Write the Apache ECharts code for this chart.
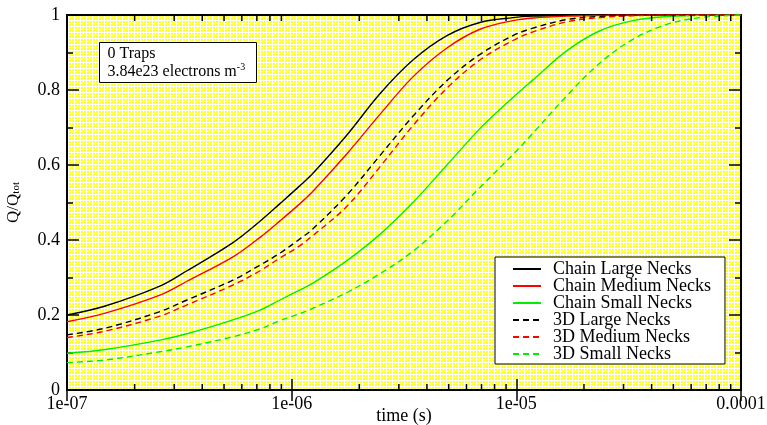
<!DOCTYPE html>
<html>
<head>
<meta charset="utf-8">
<script src="https://cdn.jsdelivr.net/npm/echarts@6/dist/echarts.min.js"></script>
<style>html,body{margin:0;padding:0;background:#fff;}#c{width:767px;height:425px;}</style>
</head>
<body>
<div id="c"></div>
<script>
// time (s)
const times = [1.0e-7, 1.48e-7, 2.59e-7, 3.42e-7, 5.48e-7, 7.23e-7, 8.87e-7, 1.089e-6, 1.244e-6, 1.762e-6, 2.471e-6, 3.465e-6, 4.911e-6, 6.886e-6, 9.66e-6, 1.186e-5, 1.68e-5, 2.355e-5, 3.30e-5, 4.68e-5, 6.56e-5, 1.0e-4];
const chainLarge  = [0.200,0.224,0.277,0.318,0.393,0.450,0.497,0.545,0.578,0.680,0.790,0.880,0.945,0.980,0.993,0.997,0.999,1.0,1.0,1.0,1.0,1.0];
const chainMedium = [0.182,0.205,0.253,0.290,0.355,0.407,0.451,0.497,0.530,0.630,0.735,0.835,0.912,0.962,0.985,0.992,0.997,0.999,1.0,1.0,1.0,1.0];
const chainSmall  = [0.098,0.108,0.133,0.150,0.187,0.213,0.240,0.267,0.285,0.345,0.415,0.500,0.600,0.697,0.780,0.827,0.905,0.958,0.985,0.996,0.999,1.0];
const d3Large     = [0.147,0.165,0.209,0.240,0.293,0.333,0.365,0.403,0.430,0.520,0.625,0.730,0.825,0.895,0.945,0.965,0.988,0.996,0.999,1.0,1.0,1.0];
const d3Medium    = [0.140,0.157,0.197,0.227,0.280,0.318,0.352,0.385,0.412,0.490,0.595,0.705,0.805,0.880,0.932,0.955,0.982,0.993,0.998,1.0,1.0,1.0];
const d3Small     = [0.073,0.080,0.102,0.115,0.142,0.163,0.185,0.204,0.218,0.260,0.310,0.370,0.450,0.540,0.628,0.685,0.785,0.872,0.935,0.975,0.993,1.0];
const seriesNames = ['Chain Large Necks','Chain Medium Necks','Chain Small Necks','3D Large Necks','3D Medium Necks','3D Small Necks'];
const xTickLabels = {'1e-7':'1e-07','1e-6':'1e-06','1e-5':'1e-05','1e-4':'0.0001'};
const minorTicksX = [2e-7,3e-7,4e-7,5e-7,6e-7,7e-7,8e-7,9e-7,2e-6,3e-6,4e-6,5e-6,6e-6,7e-6,8e-6,9e-6,2e-5,3e-5,4e-5,5e-5,6e-5,7e-5,8e-5,9e-5];

const FONT = 'Liberation Serif';

// background texture
const tile = document.createElement('canvas');
tile.width = 3; tile.height = 3;
const tc = tile.getContext('2d');
tc.fillStyle = '#ffffff'; tc.fillRect(0,0,3,3);
tc.fillStyle = '#ffff28'; tc.fillRect(0,0,2,2);

const chart = echarts.init(document.getElementById('c'), null, {renderer:'canvas'});

function pairs(arr){ return times.map((t,i)=>[t, arr[i]]); }
function lineSeries(name, data, color, dashed){
  return {
    name, type:'line', data: pairs(data), xAxisIndex:0, yAxisIndex:0,
    showSymbol:false, symbol:'none', smooth:0.35,
    lineStyle:{color, width:1.4, type: dashed ? [6,4] : 'solid'},
    itemStyle:{color}, z:5, clip:true
  };
}

const tickStyle = {color:'#000', width:1.5};

chart.setOption({
  animation:false,
  grid:{left:67, right:26, top:15, bottom:35, outerBoundsMode:'none', containLabel:false,
    show:true, backgroundColor:{image:tile, repeat:'repeat'}, borderColor:'#000', borderWidth:2},
  xAxis:[{
    type:'log', logBase:10, min:1e-7, max:1e-4, position:'bottom',
    name:'time (s)', nameLocation:'middle', nameGap:17, nameMoveOverlap:false,
    nameTextStyle:{fontFamily:FONT, fontSize:18, color:'#000'},
    axisLine:{show:true, lineStyle:{color:'#000', width:2}},
    axisTick:{show:true, inside:true, length:11, lineStyle:tickStyle},
    axisLabel:{fontFamily:FONT, fontSize:18, color:'#000', margin:5,
      formatter:v=>{const e=Math.round(Math.log10(v)); return xTickLabels['1e'+e]||'';}},
    splitLine:{show:false}
  },{
    type:'log', logBase:10, min:1e-7, max:1e-4, position:'top',
    axisLine:{show:true, lineStyle:{color:'#000', width:2}},
    axisTick:{show:true, inside:true, length:11, lineStyle:tickStyle},
    axisLabel:{show:false}, splitLine:{show:false}
  }],
  yAxis:[{
    type:'value', min:0, max:1, interval:0.2, position:'left',
    name:'Q/Q{sub|tot}', nameLocation:'middle', nameGap:45, nameRotate:90, nameMoveOverlap:false,
    nameTextStyle:{fontFamily:FONT, fontSize:17, color:'#000',
      rich:{sub:{fontFamily:FONT, fontSize:11, verticalAlign:'bottom', padding:[6,0,0,0]}}},
    axisLine:{show:true, lineStyle:{color:'#000', width:2}},
    axisTick:{show:true, inside:true, length:12, lineStyle:tickStyle},
    minorTick:{show:true, splitNumber:2, length:6, lineStyle:tickStyle},
    axisLabel:{fontFamily:FONT, fontSize:18, color:'#000', margin:7},
    splitLine:{show:false}
  },{
    type:'value', min:0, max:1, interval:0.2, position:'right',
    axisLine:{show:true, lineStyle:{color:'#000', width:2}},
    axisTick:{show:true, inside:true, length:12, lineStyle:tickStyle},
    minorTick:{show:true, splitNumber:2, length:6, lineStyle:tickStyle},
    axisLabel:{show:false}, splitLine:{show:false}
  }],
  legend:{
    data:seriesNames, orient:'vertical', left:495, top:257,
    backgroundColor:'#fff', borderColor:'#000', borderWidth:1, borderRadius:0,
    padding:[3,14,1,17], itemWidth:28, itemHeight:2, itemGap:-1,
    itemStyle:{opacity:0},
    textStyle:{fontFamily:FONT, fontSize:18, color:'#000', lineHeight:16, padding:[0,0,0,7]},
    selectedMode:false
  },
  graphic:[{
    type:'group', left:99, top:42, z:100,
    children:[
      {type:'rect', shape:{x:0,y:0,width:157,height:40}, style:{fill:'#fff', stroke:'#000', lineWidth:1}},
      {type:'text', x:8, y:3, style:{text:'0 Traps', font:'16px "Liberation Serif"', fill:'#000'}},
      {type:'text', x:8, y:20, style:{text:'3.84e23 electrons m{sup|-3}', font:'16px "Liberation Serif"', fill:'#000',
        rich:{sup:{fontSize:10, fontFamily:FONT, verticalAlign:'top', padding:[0,0,8,0]}}}}
    ]
  }],
  series:[
    lineSeries(seriesNames[0], chainLarge, '#000000', false),
    lineSeries(seriesNames[1], chainMedium, '#ff0000', false),
    lineSeries(seriesNames[2], chainSmall, '#00ee00', false),
    lineSeries(seriesNames[3], d3Large, '#000000', true),
    lineSeries(seriesNames[4], d3Medium, '#ff0000', true),
    lineSeries(seriesNames[5], d3Small, '#00ee00', true),
    {
      type:'custom', name:'minorTicks', silent:true, z:6,
      data: minorTicksX.map(v=>[v]),
      encode:{x:0},
      renderItem:(params, api)=>{
        const v = api.value(0);
        const b = api.coord([v, 0]);
        const t = api.coord([v, 1]);
        return {type:'group', children:[
          {type:'line', shape:{x1:b[0], y1:b[1], x2:b[0], y2:b[1]-6}, style:{stroke:'#000', lineWidth:1.5}},
          {type:'line', shape:{x1:t[0], y1:t[1], x2:t[0], y2:t[1]+6}, style:{stroke:'#000', lineWidth:1.5}}
        ]};
      }
    }
  ]
});
</script>
</body>
</html>
